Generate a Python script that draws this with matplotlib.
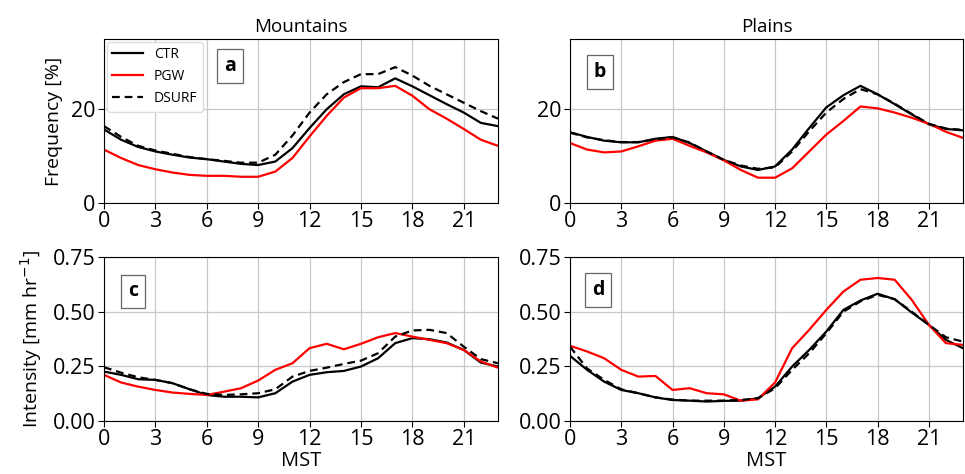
import numpy as np
import matplotlib
matplotlib.use("Agg")
import matplotlib.pyplot as plt

plt.rcParams['font.family'] = ['Open Sans', 'DejaVu Sans']

hours = list(range(24))

# Frequency [%] - Mountains
freq_mtn_ctr = [15.7, 13.5, 11.95, 11.0, 10.3, 9.7, 9.35, 8.85, 8.35, 8.1, 8.85, 11.7,
                16.0, 20.0, 23.2, 24.9, 24.7, 26.6, 24.9, 23.0, 21.1, 19.3, 17.1, 16.4]
freq_mtn_pgw = [11.4, 9.6, 8.1, 7.2, 6.5, 6.0, 5.8, 5.8, 5.6, 5.6, 6.7, 9.6,
                14.2, 18.6, 22.5, 24.5, 24.5, 25.0, 22.9, 20.0, 18.0, 15.8, 13.5, 12.2]
freq_mtn_dsurf = [16.4, 14.1, 12.2, 11.2, 10.5, 9.8, 9.35, 9.0, 8.6, 8.6, 10.3, 14.4,
                  19.3, 23.2, 25.8, 27.5, 27.5, 29.0, 27.2, 25.0, 23.2, 21.4, 19.6, 18.0]

# Frequency [%] - Plains
freq_pln_ctr = [15.1, 14.1, 13.3, 12.95, 12.95, 13.7, 14.1, 12.8, 11.0, 9.2, 7.8, 7.05,
                7.8, 11.4, 16.0, 20.4, 23.0, 25.0, 23.2, 21.1, 18.9, 16.8, 15.8, 15.5]
freq_pln_pgw = [12.8, 11.4, 10.8, 11.0, 12.1, 13.3, 13.7, 12.2, 10.8, 9.1, 7.05, 5.4,
                5.4, 7.4, 11.0, 14.6, 17.5, 20.6, 20.2, 19.3, 18.2, 16.9, 15.2, 13.9]
freq_pln_dsurf = [15.0, 14.0, 13.4, 13.0, 13.0, 13.6, 14.0, 12.9, 11.0, 9.2, 8.0, 7.3,
                  7.6, 11.0, 15.3, 19.3, 22.2, 24.3, 23.2, 21.2, 19.0, 16.9, 15.9, 15.6]

# Intensity [mm/hr] - Mountains
int_mtn_ctr = [0.226, 0.211, 0.191, 0.188, 0.173, 0.145, 0.119, 0.111, 0.111, 0.108, 0.127, 0.180,
               0.211, 0.223, 0.229, 0.249, 0.287, 0.356, 0.379, 0.374, 0.359, 0.325, 0.267, 0.249]
int_mtn_pgw = [0.211, 0.176, 0.157, 0.142, 0.130, 0.124, 0.119, 0.134, 0.150, 0.185, 0.234, 0.264,
               0.333, 0.353, 0.328, 0.353, 0.383, 0.402, 0.386, 0.371, 0.356, 0.325, 0.272, 0.244]
int_mtn_dsurf = [0.246, 0.221, 0.200, 0.188, 0.173, 0.145, 0.124, 0.119, 0.122, 0.127, 0.145, 0.203,
                 0.229, 0.244, 0.261, 0.276, 0.310, 0.386, 0.414, 0.417, 0.402, 0.340, 0.283, 0.264]

# Intensity [mm/hr] - Plains
int_pln_ctr = [0.298, 0.234, 0.180, 0.142, 0.127, 0.108, 0.096, 0.093, 0.089, 0.092, 0.093, 0.104,
               0.157, 0.249, 0.325, 0.409, 0.508, 0.551, 0.582, 0.557, 0.496, 0.440, 0.371, 0.333]
int_pln_pgw = [0.344, 0.318, 0.287, 0.234, 0.203, 0.206, 0.142, 0.150, 0.127, 0.122, 0.093, 0.099,
               0.176, 0.333, 0.417, 0.508, 0.592, 0.646, 0.654, 0.646, 0.554, 0.440, 0.356, 0.348]
int_pln_dsurf = [0.340, 0.240, 0.188, 0.145, 0.127, 0.108, 0.098, 0.093, 0.093, 0.093, 0.096, 0.104,
                 0.150, 0.234, 0.310, 0.401, 0.500, 0.547, 0.577, 0.557, 0.500, 0.440, 0.383, 0.363]

xticks = [0, 3, 6, 9, 12, 15, 18, 21]

fig = plt.figure(figsize=(9.65, 4.74), dpi=100)

W, H = 965.0, 474.0
def box(l, r, t, b):
    return [l / W, 1 - b / H, (r - l) / W, (b - t) / H]

ax_a = fig.add_axes(box(104, 498, 39, 203))
ax_b = fig.add_axes(box(570, 963, 39, 203))
ax_c = fig.add_axes(box(104, 498, 257, 421))
ax_d = fig.add_axes(box(570, 963, 257, 421))

panels = [
    (ax_a, freq_mtn_ctr, freq_mtn_pgw, freq_mtn_dsurf, 'a', (0.32, 0.835)),
    (ax_b, freq_pln_ctr, freq_pln_pgw, freq_pln_dsurf, 'b', (0.076, 0.80)),
    (ax_c, int_mtn_ctr, int_mtn_pgw, int_mtn_dsurf, 'c', (0.074, 0.79)),
    (ax_d, int_pln_ctr, int_pln_pgw, int_pln_dsurf, 'd', (0.072, 0.80)),
]

for ax, ctr, pgw, dsurf, letter, pos in panels:
    ax.plot(hours, ctr, color='black', lw=1.6, label='CTR')
    ax.plot(hours, pgw, color='red', lw=1.6, label='PGW')
    ax.plot(hours, dsurf, color='black', lw=1.6, ls=(0, (3.5, 2.2)), label='DSURF')
    ax.set_xlim(0, 23)
    ax.set_xticks(xticks)
    ax.grid(True, color='#c8c8c8', lw=0.9)
    ax.set_axisbelow(True)
    ax.tick_params(labelsize=15.5, length=4, pad=2)
    ax.text(pos[0], pos[1], letter, transform=ax.transAxes, fontsize=14,
            fontweight='bold', ha='center', va='center',
            bbox=dict(boxstyle='square,pad=0.35', fc='white', ec='#666666', lw=0.9))

for ax in (ax_a, ax_b):
    ax.set_ylim(0, 35)
    ax.set_yticks([0, 20])

for ax in (ax_c, ax_d):
    ax.set_ylim(0, 0.75)
    ax.set_yticks([0, 0.25, 0.5, 0.75])
    ax.set_yticklabels(['0.00', '0.25', '0.50', '0.75'])
    ax.set_xlabel('MST', fontsize=14.5, labelpad=0.5)

ax_a.set_title('Mountains', fontsize=13.5, pad=5)
ax_b.set_title('Plains', fontsize=13.5, pad=5)
ax_a.set_ylabel('Frequency [%]', fontsize=14, labelpad=6)
ax_c.set_ylabel('Intensity [mm hr$^{-1}$]', fontsize=14, labelpad=6)

ax_a.legend(loc='upper left', fontsize=10, handlelength=2.2, borderaxespad=0.2,
            frameon=True, framealpha=1, edgecolor='#dddddd', fancybox=True)

fig.savefig('out.png', dpi=100)
